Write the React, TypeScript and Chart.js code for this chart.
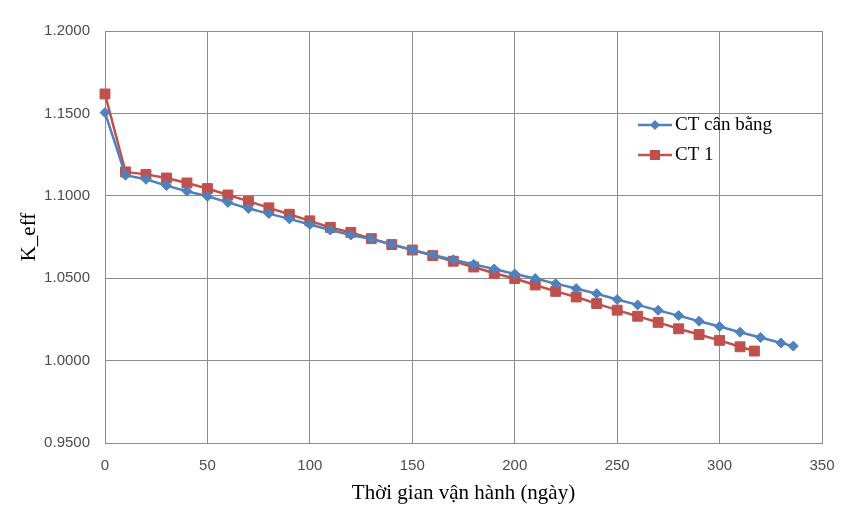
import { Chart, registerables } from 'chart.js';
import React, { useEffect, useRef } from 'react';

Chart.register(...registerables);

// operating days
const daysBalanced = [
    0, 10, 20, 30, 40, 50, 60, 70, 80, 90, 100, 110, 120, 130, 140, 150, 160,
    170, 180, 190, 200, 210, 220, 230, 240, 250, 260, 270, 280, 290, 300, 310,
    320, 330, 336,
];
const keffBalanced = [
    1.1505, 1.1125, 1.11, 1.1062, 1.1028, 1.0997, 1.096, 1.0923, 1.0892,
    1.086, 1.0826, 1.0792, 1.0762, 1.0738, 1.0705, 1.0672, 1.0641, 1.0612,
    1.0584, 1.0556, 1.0526, 1.0498, 1.0467, 1.0437, 1.0406, 1.0371, 1.0338,
    1.0305, 1.0273, 1.0239, 1.0207, 1.0172, 1.014, 1.0107, 1.0088,
];

const daysCT1 = [
    0, 10, 20, 30, 40, 50, 60, 70, 80, 90, 100, 110, 120, 130, 140, 150, 160,
    170, 180, 190, 200, 210, 220, 230, 240, 250, 260, 270, 280, 290, 300, 310,
    317,
];
const keffCT1 = [
    1.1618, 1.1145, 1.113, 1.1108, 1.1078, 1.1044, 1.1005, 1.0968, 1.0927,
    1.0888, 1.0848, 1.0808, 1.0778, 1.074, 1.0704, 1.0671, 1.0637, 1.0603,
    1.0568, 1.053, 1.0498, 1.0459, 1.042, 1.0386, 1.0346, 1.0306, 1.0269,
    1.0232, 1.0193, 1.0158, 1.0123, 1.0084, 1.0058,
];

const seriesNames = ['CT cân bằng', 'CT 1'];
const seriesColors = ['#4F81BD', '#C0504D'];
const seriesMarkers = ['rectRot', 'rect'];

const gridColor = '#8C8C8C';
const tickFont = { family: '"Liberation Sans", Arial, sans-serif', size: 15 };
const serifFont = '"Liberation Serif", "Times New Roman", serif';

// legend drawn on top of the plot, no box
const insideLegend = {
    id: 'insideLegend',
    afterDatasetsDraw(chart: any) {
        const ctx = chart.ctx;
        const x0 = 638;
        const yStart = 125;
        const rowGap = 30;
        ctx.save();
        seriesNames.forEach((name, i) => {
            const y = yStart + i * rowGap;
            ctx.strokeStyle = seriesColors[i];
            ctx.lineWidth = 2.5;
            ctx.beginPath();
            ctx.moveTo(x0, y);
            ctx.lineTo(x0 + 34, y);
            ctx.stroke();
            ctx.fillStyle = seriesColors[i];
            ctx.beginPath();
            if (seriesMarkers[i] === 'rectRot') {
                ctx.moveTo(x0 + 17, y - 5);
                ctx.lineTo(x0 + 22, y);
                ctx.lineTo(x0 + 17, y + 5);
                ctx.lineTo(x0 + 12, y);
                ctx.closePath();
            } else {
                ctx.rect(x0 + 12, y - 5, 10, 10);
            }
            ctx.fill();
            ctx.fillStyle = '#000000';
            ctx.font = `19px ${serifFont}`;
            ctx.textBaseline = 'middle';
            ctx.textAlign = 'left';
            ctx.fillText(name, x0 + 37, y);
        });
        ctx.restore();
    },
};

const App: React.FC = () => {
    const canvasRef = useRef<HTMLCanvasElement>(null);

    useEffect(() => {
        document.body.style.margin = '0';
        if (!canvasRef.current) return;
        const ctx = canvasRef.current.getContext('2d');
        if (!ctx) return;

        const myChart = new Chart(ctx, {
            type: 'line',
            data: {
                datasets: [
                    {
                        label: seriesNames[0],
                        data: daysBalanced.map((d, i) => ({ x: d, y: keffBalanced[i] })),
                        borderColor: seriesColors[0],
                        backgroundColor: seriesColors[0],
                        borderWidth: 2.5,
                        pointStyle: 'rectRot',
                        pointRadius: 5,
                        pointBorderWidth: 1,
                        tension: 0,
                        clip: false,
                    },
                    {
                        label: seriesNames[1],
                        data: daysCT1.map((d, i) => ({ x: d, y: keffCT1[i] })),
                        borderColor: seriesColors[1],
                        backgroundColor: seriesColors[1],
                        borderWidth: 2.5,
                        pointStyle: 'rect',
                        pointRadius: 7,
                        pointBorderWidth: 1,
                        tension: 0,
                        clip: false,
                    },
                ],
            },
            options: {
                responsive: false,
                animation: false,
                layout: {
                    padding: { top: 31, right: 33, left: 0, bottom: 0 },
                },
                plugins: {
                    legend: { display: false },
                    tooltip: { enabled: false },
                },
                scales: {
                    x: {
                        type: 'linear',
                        min: 0,
                        max: 350,
                        ticks: {
                            stepSize: 50,
                            padding: 14,
                            color: '#4D4D4D',
                            font: tickFont,
                        },
                        grid: { color: gridColor, drawTicks: false, lineWidth: 1 },
                        border: { color: gridColor },
                        title: {
                            display: true,
                            text: 'Thời gian vận hành (ngày)',
                            color: '#000000',
                            font: { family: serifFont, size: 21 },
                            padding: { top: 4, bottom: 14 },
                        },
                        afterFit(scale: any) {
                            scale.height = 77;
                        },
                    },
                    y: {
                        min: 0.95,
                        max: 1.2,
                        ticks: {
                            stepSize: 0.05,
                            padding: 15,
                            color: '#4D4D4D',
                            font: tickFont,
                            callback: (v: any) => Number(v).toFixed(4),
                        },
                        grid: { color: gridColor, drawTicks: false, lineWidth: 1 },
                        border: { color: gridColor },
                        title: {
                            display: true,
                            text: 'K_eff',
                            color: '#000000',
                            font: { family: serifFont, size: 21 },
                            padding: { top: 17, bottom: 4 },
                        },
                        afterFit(scale: any) {
                            scale.width = 105;
                        },
                    },
                },
            },
            plugins: [insideLegend],
        });

        return () => {
            myChart.destroy();
        };
    }, []);

    return (
        <div style={{ width: 855, height: 520, background: '#ffffff' }}>
            <canvas ref={canvasRef} width={855} height={520} />
        </div>
    );
};

export default App;
